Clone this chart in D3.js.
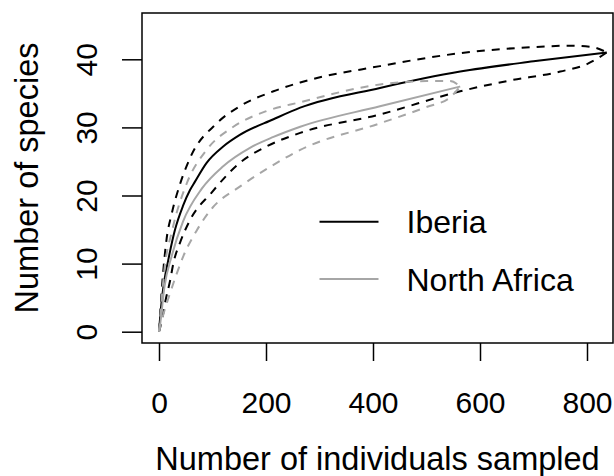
<!DOCTYPE html>
<html>
<head>
<meta charset="utf-8">
<script src="https://cdn.jsdelivr.net/npm/d3@7"></script>
<style>
  html, body { margin: 0; padding: 0; background: #fff; }
  svg { display: block; font-family: "Liberation Sans", Arial, sans-serif; }
</style>
</head>
<body>
<svg id="chart" width="614" height="476"></svg>
<script>
// ---- data ----
const xTicks = [0, 200, 400, 600, 800];
const yTicks = [0, 10, 20, 30, 40];
const seriesNames = ["Iberia", "North Africa"];

const iberiaMean = [[0,0],[1,1],[5,4.5],[10,7.5],[17,10.4],[30,15],[45,18.5],[58,20.8],[67,22],[89,24.8],[120,27.2],[151,28.9],[214,31.2],[264,32.9],[413,35.8],[563,38.2],[700,39.7],[837,41]];
const iberiaUpper = [[0,0],[2,2.5],[6,7],[14,13.5],[24,17.4],[39,21.6],[58,25.5],[108,30.6],[151,33.1],[214,35.3],[264,36.6],[413,39.0],[563,40.9],[700,41.8],[770,42.0],[810,41.8],[837,41]];
const iberiaLower = [[0,0],[5,1.5],[12,4.5],[21,7.6],[27,10.1],[39,13.0],[58,16.4],[98,20.4],[151,24.8],[201,27.2],[264,29.2],[413,31.9],[563,35.3],[650,36.8],[750,38.2],[800,39.3],[837,41]];

const africaMean = [[0,0],[2,1],[10,6.5],[24,11.2],[45,16.2],[80,21.0],[120,24.3],[170,27.0],[214,28.6],[264,30.1],[413,33.1],[563,36.0]];
const africaUpper = [[0,0],[3,3],[10,9],[25,15],[52,21.8],[89,26.7],[139,30.1],[201,32.4],[264,33.7],[413,36.3],[500,36.8],[544,36.8],[563,36.0]];
const africaLower = [[0,0],[8,2.5],[20,5.5],[33,8.5],[45,11],[70,14.8],[100,18.2],[151,21.3],[214,24.5],[264,26.7],[413,30.6],[500,33.0],[544,34.4],[563,36.0]];

// ---- layout ----
const svg = d3.select("#chart");
const box = { left: 142, right: 613, top: 13, bottom: 343 };
const x = d3.scaleLinear().domain([0, 800]).range([159, 587]);
const y = d3.scaleLinear().domain([0, 40]).range([331.7, 59.3]);

const black = "#000";
const grey = "#a6a6a6";
const lw = 2;

// clip to plot box
svg.append("clipPath").attr("id", "clip")
  .append("rect").attr("x", box.left).attr("y", box.top)
  .attr("width", box.right - box.left).attr("height", box.bottom - box.top);

const line = d3.line().x(d => x(d[0])).y(d => y(d[1])).curve(d3.curveMonotoneX);
const g = svg.append("g").attr("clip-path", "url(#clip)");

const curves = [
  { data: iberiaUpper, color: black, dash: "8,7" },
  { data: iberiaLower, color: black, dash: "8,7" },
  { data: iberiaMean, color: black, dash: null },
  { data: africaUpper, color: grey, dash: "8,7" },
  { data: africaLower, color: grey, dash: "8,7" },
  { data: africaMean, color: grey, dash: null }
];
curves.forEach(c => {
  g.append("path").attr("d", line(c.data))
    .attr("fill", "none").attr("stroke", c.color).attr("stroke-width", lw)
    .attr("stroke-dasharray", c.dash);
});

// box
svg.append("rect").attr("x", box.left).attr("y", box.top)
  .attr("width", box.right - box.left).attr("height", box.bottom - box.top)
  .attr("fill", "none").attr("stroke", "#000").attr("stroke-width", 1.5);

// x axis
const xAxis = d3.axisBottom(x).tickValues(xTicks).tickSize(18).tickFormat(d3.format("d"));
const gx = svg.append("g").attr("transform", `translate(0,${box.bottom})`).call(xAxis);
gx.select(".domain").remove();
gx.selectAll(".tick line").attr("stroke", "#000").attr("stroke-width", 1.5);
gx.selectAll(".tick text").attr("font-size", 30).attr("fill", "#000")
  .attr("font-family", "Liberation Sans, Arial, sans-serif")
  .attr("dy", null).attr("y", 412.5 - box.bottom);

// y axis
const yAxis = d3.axisLeft(y).tickValues(yTicks).tickSize(20).tickFormat(d3.format("d"));
const gy = svg.append("g").attr("transform", `translate(${box.left},0)`).call(yAxis);
gy.select(".domain").remove();
gy.selectAll(".tick line").attr("stroke", "#000").attr("stroke-width", 1.5);
gy.selectAll(".tick text").attr("font-size", 30).attr("fill", "#000")
  .attr("font-family", "Liberation Sans, Arial, sans-serif")
  .attr("x", null).attr("dy", null)
  .attr("text-anchor", "middle")
  .attr("transform", `translate(${96.7 - box.left},0) rotate(-90)`);

// axis titles
svg.append("text").attr("x", (box.left + box.right) / 2).attr("y", 470)
  .attr("text-anchor", "middle").attr("font-size", 32.5).attr("fill", "#000")
  .text("Number of individuals sampled");
svg.append("text")
  .attr("transform", `translate(38.3,${(box.top + box.bottom) / 2}) rotate(-90)`)
  .attr("text-anchor", "middle").attr("font-size", 32.5).attr("fill", "#000")
  .text("Number of species");

// legend
const legendColors = [black, grey];
const legendY = [221.7, 279];
seriesNames.forEach((name, i) => {
  svg.append("line").attr("x1", 319.5).attr("x2", 378.5)
    .attr("y1", legendY[i]).attr("y2", legendY[i])
    .attr("stroke", legendColors[i]).attr("stroke-width", lw);
  svg.append("text").attr("x", 406.5).attr("y", legendY[i] + 11.5)
    .attr("font-size", 32).attr("fill", "#000").text(name);
});
</script>
</body>
</html>
